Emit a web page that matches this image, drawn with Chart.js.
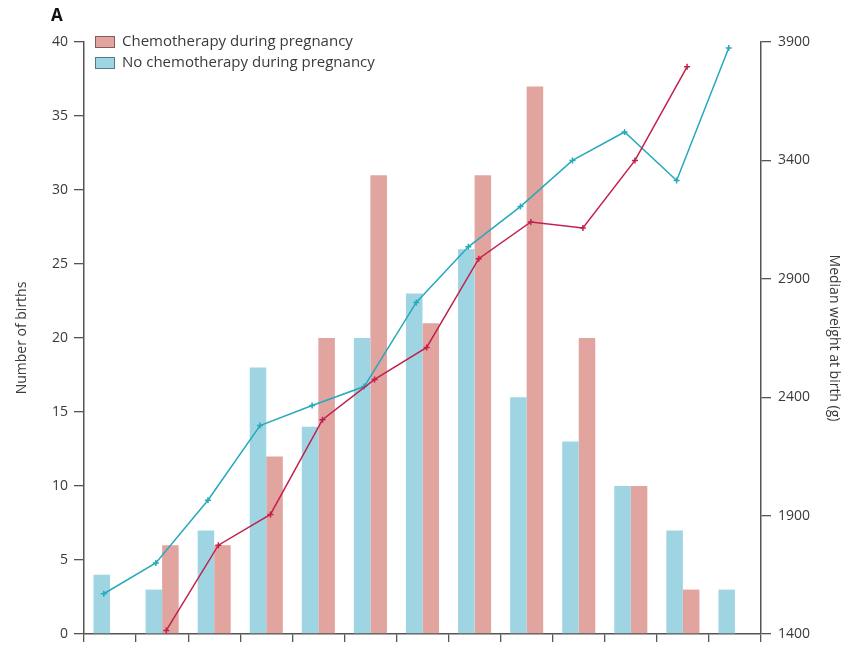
<!DOCTYPE html>
<html>
<head>
<meta charset="utf-8">
<title>Births and birth weight</title>
<script src="https://cdn.jsdelivr.net/npm/chart.js@4.4.1/dist/chart.umd.min.js"></script>
<style>
  html, body { margin: 0; padding: 0; background: #fff; }
  #wrap { width: 845px; height: 646px; }
</style>
</head>
<body>
<div id="wrap"><canvas id="births" width="845" height="646"></canvas></div>
<script>
// groups along the x axis (no labels are printed under them)
const groups = ['1', '2', '3', '4', '5', '6', '7', '8', '9', '10', '11', '12', '13'];

// number of births per group
const birthsChemo   = [0, 6, 6, 12, 20, 31, 21, 31, 37, 20, 10, 3, 0];
const birthsNoChemo = [4, 3, 7, 18, 14, 20, 23, 26, 16, 13, 10, 7, 3];

// median weight at birth (g), null where the group has no value
const weightChemo   = [null, 1415, 1775, 1905, 2305, 2475, 2610, 2985, 3140, 3115, 3400, 3795, null];
const weightNoChemo = [1570, 1700, 1965, 2280, 2365, 2445, 2800, 3035, 3205, 3400, 3520, 3315, 3875];

// axis ticks
const countTicks  = [0, 5, 10, 15, 20, 25, 30, 35, 40];
const weightTicks = [1400, 1900, 2400, 2900, 3400, 3900];

const labels = {
  chemo: 'Chemotherapy during pregnancy',
  noChemo: 'No chemotherapy during pregnancy'
};

const colors = {
  barChemo: '#e1a49f',
  barNoChemo: '#9fd5e3',
  lineChemo: '#c2204c',
  lineNoChemo: '#25a9bd',
  axis: '#555555',
  text: '#3a3a3a'
};

const FONT = "'Open Sans', 'Liberation Sans', sans-serif";

// one linear x axis: group i is the band [i, i+1], bars sit at its middle,
// the weight lines sit slightly to the side, over their own bar
function toPoints(values, shift) {
  return values
    .map((v, i) => (v == null ? null : { x: i + 0.5 + shift, y: v }))
    .filter(p => p !== null);
}

// panel letter and legend, drawn on the canvas after the chart
const overlay = {
  id: 'overlay',
  afterDraw(chart) {
    const ctx = chart.ctx;
    ctx.save();
    ctx.fillStyle = '#111';
    ctx.font = 'bold 17px ' + FONT;
    ctx.textBaseline = 'middle';
    ctx.fillText('A', 51, 16);

    const rows = [
      { text: labels.chemo, fill: colors.barChemo, stroke: '#8a5a56' },
      { text: labels.noChemo, fill: colors.barNoChemo, stroke: '#4f7c88' }
    ];
    ctx.font = '15px ' + FONT;
    rows.forEach((r, i) => {
      const cy = 42 + i * 21;
      ctx.fillStyle = r.fill;
      ctx.fillRect(95, cy - 6, 20, 12);
      ctx.strokeStyle = r.stroke;
      ctx.lineWidth = 1;
      ctx.strokeRect(95.5, cy - 5.5, 19, 11);
      ctx.fillStyle = colors.text;
      ctx.fillText(r.text, 122, cy);
    });
    ctx.restore();
  }
};

const tickFont = { family: FONT, size: 14 };

function barSeries(label, values, color) {
  return {
    label: label,
    data: values.map((v, i) => ({ x: i + 0.5, y: v })),
    backgroundColor: color,
    categoryPercentage: 0.635,
    barPercentage: 1,
    order: 2
  };
}

function lineSeries(label, points, color, order) {
  return {
    type: 'line',
    label: label,
    data: points,
    yAxisID: 'y2',
    borderColor: color,
    borderWidth: 1.5,
    pointStyle: 'cross',
    pointRadius: 3,
    pointBorderWidth: 1.5,
    pointBorderColor: color,
    tension: 0,
    order: order
  };
}

// vertical axes: fixed width, and no extra room above/below for half labels
function fixVertical(s) {
  s.width = 84;
  s.paddingTop = 0;
  s.paddingBottom = 0;
}

new Chart(document.getElementById('births'), {
  type: 'bar',
  data: {
    datasets: [
      barSeries(labels.noChemo, birthsNoChemo, colors.barNoChemo),
      barSeries(labels.chemo, birthsChemo, colors.barChemo),
      lineSeries(labels.noChemo + ' (weight)', toPoints(weightNoChemo, -0.12), colors.lineNoChemo, 1),
      lineSeries(labels.chemo + ' (weight)', toPoints(weightChemo, 0.08), colors.lineChemo, 0)
    ]
  },
  options: {
    responsive: false,
    animation: false,
    layout: { padding: { top: 42, left: 0, right: 0, bottom: 0 } },
    plugins: {
      legend: { display: false },
      tooltip: { enabled: false }
    },
    scales: {
      x: {
        type: 'linear',
        position: 'bottom',
        min: 0,
        max: groups.length,
        offset: false,
        afterBuildTicks(s) { s.ticks = groups.concat(['']).map((g, i) => ({ value: i })); },
        grid: {
          offset: false,
          drawOnChartArea: false,
          drawTicks: true,
          tickLength: 8,
          color: colors.axis,
          lineWidth: 1.3
        },
        border: { color: colors.axis, width: 1.5 },
        ticks: { display: false },
        afterFit(s) { s.height = 12; s.paddingLeft = 0; s.paddingRight = 0; }
      },
      y: {
        position: 'left',
        min: 0,
        max: 40,
        afterBuildTicks(s) { s.ticks = countTicks.map(v => ({ value: v })); },
        grid: {
          drawOnChartArea: false,
          tickLength: 10,
          color: colors.axis,
          lineWidth: 1.3
        },
        border: { color: colors.axis, width: 1.5 },
        ticks: { font: tickFont, color: colors.text, padding: 6 },
        title: {
          display: true,
          text: 'Number of births',
          font: { family: FONT, size: 14 },
          color: colors.text,
          padding: { top: 14, bottom: 0 }
        },
        afterFit: fixVertical
      },
      y2: {
        position: 'right',
        min: 1400,
        max: 3900,
        afterBuildTicks(s) { s.ticks = weightTicks.map(v => ({ value: v })); },
        grid: {
          drawOnChartArea: false,
          tickLength: 10,
          color: colors.axis,
          lineWidth: 1.3
        },
        border: { color: colors.axis, width: 1.5 },
        ticks: {
          font: tickFont,
          color: colors.text,
          padding: 7,
          callback: v => String(v)
        },
        title: {
          display: true,
          text: 'Median weight at birth (g)',
          font: { family: FONT, size: 14 },
          color: colors.text,
          padding: { top: 3, bottom: 0 }
        },
        afterFit: fixVertical
      }
    }
  },
  plugins: [overlay]
});
</script>
</body>
</html>
